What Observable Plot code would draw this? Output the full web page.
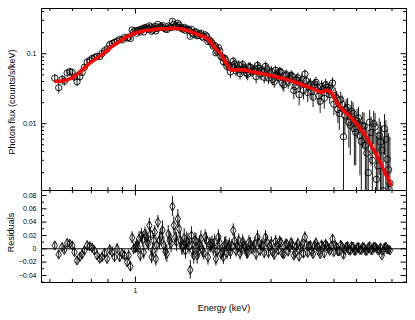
<!DOCTYPE html>
<html><head><meta charset="utf-8">
<script src="https://cdn.jsdelivr.net/npm/d3@7"></script>
<script src="https://cdn.jsdelivr.net/npm/@observablehq/plot@0.6"></script>
<style>html,body{margin:0;padding:0;background:#fff}#chart svg{display:block}</style>
</head><body><div id="chart"></div><script>
// Energy bins (keV), set A
const energy = [
  0.520,0.537,0.552,0.562,0.575,0.587,0.599,0.610,0.623,0.637,
  0.649,0.661,0.676,0.690,0.704,0.717,0.733,0.749,0.763,0.778,
  0.795,0.812,0.828,0.844,0.862,0.880,0.898,0.915,0.935,0.947,
  0.960,0.974,0.986,1.000,
  1.02,1.04,1.06,1.08,1.10,1.12,1.14,1.16,1.18,1.20,
  1.23,1.26,1.29,1.32,1.35,1.38,1.41,1.44,1.47,1.50,
  1.53,1.56,1.59,1.62,1.65,1.68,1.72,1.76,1.80,1.84,
  1.88,1.92,1.96,2.00,2.04,2.08,2.12,2.16,2.21,2.26,
  2.31,2.36,2.41,2.46,2.51,2.57,2.63,2.69,2.75,2.81,
  2.87,2.94,3.01,3.08,3.15,3.22,3.29,3.37,3.45,3.53,
  3.61,3.69,3.77,3.86,3.95,4.04,4.13,4.22,4.32,4.42,
  4.52,4.62,4.72,4.83,4.94,5.05,5.16,5.28,5.40,5.52,
  5.64,5.77,5.90,6.03,6.17,6.31,6.45,6.60,6.75,6.90,
  7.05,7.21,7.37,7.53,7.70,7.87
];
// Photon flux (counts/s/keV), set A
const flux = [
  0.0448,0.0327,0.0430,0.0405,0.0530,0.0555,0.0540,0.0465,0.0400,0.0470,
  0.0540,0.0640,0.0760,0.0800,0.0850,0.0880,0.0920,0.0910,0.1010,0.1100,
  0.1170,0.1350,0.1400,0.1450,0.1520,0.1600,0.1580,0.1700,0.1680,0.1720,
  0.1650,0.2180,0.2050,0.2120,
  0.215,0.205,0.228,0.236,0.226,0.250,0.210,0.235,0.212,0.262,
  0.244,0.233,0.222,0.240,0.290,0.247,0.272,0.236,0.224,0.216,
  0.221,0.178,0.198,0.206,0.181,0.191,0.175,0.186,0.150,0.149,
  0.128,0.103,0.122,0.092,0.077,0.081,0.069,0.055,0.078,0.057,
  0.069,0.059,0.063,0.053,0.065,0.055,0.061,0.068,0.051,0.056,
  0.066,0.045,0.056,0.040,0.050,0.056,0.038,0.049,0.039,0.049,
  0.030,0.042,0.026,0.043,0.051,0.028,0.037,0.024,0.039,0.025,
  0.034,0.023,0.033,0.026,0.038,0.025,0.016,0.022,0.0065,0.016,
  0.0105,0.015,0.0085,0.011,0.0068,0.0095,0.0049,0.0020,0.0075,0.0100,
  0.0016,0.0068,0.0042,0.0085,0.0031,0.0014
];
// 1-sigma errors, set A
const err = [
  0.006,0.006,0.006,0.006,0.006,0.006,0.006,0.006,0.006,0.006,
  0.006,0.006,0.007,0.007,0.007,0.007,0.007,0.007,0.007,0.007,
  0.008,0.008,0.008,0.008,0.008,0.008,0.008,0.008,0.008,0.008,
  0.008,0.009,0.009,0.009,
  0.010,0.010,0.011,0.010,0.010,0.011,0.010,0.010,0.011,0.010,
  0.013,0.012,0.013,0.013,0.015,0.013,0.014,0.013,0.012,0.013,
  0.013,0.014,0.013,0.012,0.013,0.012,0.011,0.011,0.012,0.011,
  0.011,0.011,0.011,0.010,0.011,0.011,0.010,0.011,0.010,0.010,
  0.010,0.010,0.009,0.010,0.010,0.009,0.010,0.010,0.009,0.010,
  0.010,0.009,0.010,0.008,0.008,0.008,0.008,0.008,0.008,0.008,
  0.008,0.008,0.008,0.008,0.008,0.008,0.007,0.007,0.007,0.007,
  0.007,0.007,0.007,0.007,0.007,0.007,0.006,0.006,0.006,0.006,
  0.006,0.006,0.006,0.005,0.005,0.005,0.005,0.005,0.005,0.005,
  0.005,0.005,0.005,0.005,0.005,0.005
];
// Residuals, set A
const resid = [
  0.005,-0.0086,0.0025,-0.0015,0.0085,0.0075,0.005,-0.005,-0.0175,-0.0125,
  -0.0085,-0.0025,0.005,0.0035,0.0015,-0.0025,-0.010,-0.015,-0.0125,-0.0065,
  -0.015,-0.0015,-0.005,-0.0125,0,-0.0125,-0.0075,-0.010,-0.020,-0.010,
  -0.0265,0.0165,0,0.002,
  0.002,-0.010,0.0135,0.0225,0.010,0.035,-0.0125,0.0125,-0.015,0.040,
  0.0175,0.005,-0.0075,0.0125,0.0635,0.0175,0.045,0.0125,0.0025,-0.0025,
  0.010,-0.0315,-0.0025,0.0125,-0.010,0.0075,-0.0025,0.0175,-0.0125,0.005,
  0,-0.015,0.0175,-0.0075,-0.0125,0.0075,0.0025,-0.005,0.0275,-0.0025,
  0.0125,0,0.005,-0.005,0.010,0,0.0075,0.0175,-0.0025,0.005,
  0.0175,-0.006,0.008,-0.009,0.004,0.011,-0.007,0.006,-0.004,0.009,
  -0.010,0.003,-0.0115,0.007,0.0175,-0.006,0.005,-0.008,0.009,-0.004,
  0.006,-0.007,0.004,-0.003,0.015,0.005,-0.004,0.006,-0.009,0.003,
  -0.002,0.004,-0.003,0.002,-0.002,0.003,-0.003,0.002,-0.002,0.003,
  0.001,-0.002,-0.010,0.002,-0.001,-0.0025
];
// Energy bins, set B (interleaved bins above 1 keV)
const energyB = [
  1.01,1.03,1.05,1.07,1.09,1.11,1.13,1.15,1.17,1.19,
  1.215,1.245,1.275,1.305,1.335,1.365,1.395,1.425,1.455,1.485,
  1.515,1.545,1.575,1.605,1.635,1.665,1.70,1.74,1.78,1.82,
  1.86,1.90,1.94,1.98,2.02,2.06,2.10,2.14,2.185,2.235,
  2.285,2.335,2.385,2.435,2.485,2.54,2.60,2.66,2.72,2.78,
  2.84,2.905,2.975,3.045,3.115,3.185,3.255,3.33,3.41,3.49,
  3.57,3.65,3.73,3.815,3.905,3.995,4.085,4.175,4.27,4.37,
  4.47,4.57,4.67,4.775,4.885,4.995,5.105,5.22,5.34,5.46,
  5.58,5.705,5.835,5.965,6.10,6.24,6.38,6.525,6.675,6.825,
  6.975,7.13,7.29,7.45,7.615,7.785
];
const fluxB = [
  0.196,0.218,0.222,0.205,0.231,0.224,0.240,0.218,0.245,0.230,
  0.238,0.252,0.226,0.248,0.236,0.262,0.241,0.255,0.230,0.238,
  0.228,0.214,0.222,0.190,0.203,0.184,0.196,0.168,0.178,0.158,
  0.142,0.131,0.108,0.110,0.088,0.086,0.066,0.067,0.064,0.071,
  0.062,0.052,0.070,0.060,0.051,0.064,0.058,0.047,0.062,0.057,
  0.046,0.060,0.053,0.043,0.058,0.046,0.054,0.036,0.050,0.044,
  0.047,0.034,0.045,0.038,0.030,0.041,0.036,0.029,0.036,0.033,
  0.021,0.031,0.036,0.030,0.032,0.019,0.023,0.014,0.019,0.013,
  0.017,0.0095,0.014,0.0075,0.012,0.0056,0.0092,0.0038,0.0105,0.0030,
  0.0090,0.0025,0.0055,0.0011,0.0060,0.0022
];
const errB = [
  0.010,0.011,0.010,0.011,0.010,0.011,0.010,0.011,0.010,0.011,
  0.013,0.014,0.013,0.013,0.014,0.013,0.014,0.013,0.013,0.014,
  0.013,0.012,0.013,0.013,0.012,0.012,0.012,0.011,0.012,0.011,
  0.011,0.011,0.010,0.011,0.010,0.011,0.010,0.010,0.010,0.010,
  0.010,0.010,0.010,0.009,0.010,0.010,0.009,0.010,0.010,0.009,
  0.009,0.010,0.009,0.008,0.009,0.008,0.008,0.008,0.008,0.008,
  0.008,0.008,0.008,0.008,0.008,0.007,0.007,0.007,0.007,0.007,
  0.007,0.007,0.007,0.007,0.007,0.006,0.006,0.006,0.006,0.006,
  0.006,0.006,0.006,0.005,0.005,0.005,0.005,0.005,0.005,0.005,
  0.005,0.005,0.005,0.005,0.005,0.005
];
const residB = [
  0.004,0.015,0.020,-0.005,0.018,0.008,0.022,-0.003,0.025,0.006,
  0.012,0.028,-0.004,0.022,0.008,0.035,0.010,0.030,0.004,0.016,
  0.012,0.004,0.020,-0.010,0.011,-0.004,0.015,-0.006,0.012,0.006,
  0.008,0.010,-0.003,0.009,-0.005,0.006,-0.006,0.006,0.004,0.012,
  0.004,-0.007,0.011,0.002,-0.006,0.007,0.003,-0.008,0.009,0.005,
  -0.006,0.010,0.004,-0.005,0.011,-0.002,0.009,-0.008,0.007,0.002,
  0.006,-0.006,0.008,0.002,-0.007,0.006,0.004,-0.004,0.005,0.003,
  -0.008,0.003,0.007,0.001,0.004,-0.005,0.003,-0.004,0.003,-0.002,
  0.004,-0.003,0.003,-0.003,0.003,-0.002,0.002,-0.003,0.004,-0.002,
  0.003,-0.002,0.002,-0.003,0.003,-0.001
];
// Model (red curve)
const modelEnergy = [0.523,0.550,0.575,0.600,0.640,0.694,0.753,0.817,0.886,0.960,1.041,1.129,1.225,1.383,1.500,1.587,1.694,1.792,1.882,1.992,2.091,2.160,2.268,2.381,2.604,2.988,3.429,3.904,4.303,4.518,4.667,4.860,5.131,5.715,6.367,6.904,7.390,7.904];
const modelFlux = [0.0402,0.0408,0.0425,0.0458,0.0560,0.0745,0.0946,0.123,0.155,0.186,0.208,0.219,0.228,0.230,0.219,0.201,0.182,0.164,0.127,0.100,0.0726,0.0587,0.0587,0.0587,0.0546,0.0490,0.0425,0.0353,0.0304,0.0280,0.0299,0.0283,0.0193,0.0124,0.0072,0.00416,0.0024,0.00136];

// Ticks
const xMajorTicks = [1];
const xMinorTicks = [0.5,0.6,0.7,0.8,0.9,2,3,4,5,6,7,8,9];
const yFluxMajor = [0.01,0.1];
const yFluxMinor = [0.002,0.003,0.004,0.005,0.006,0.007,0.008,0.009,0.02,0.03,0.04,0.05,0.06,0.07,0.08,0.09,0.2,0.3,0.4];
const yResidMajor = [-0.04,-0.02,0,0.02,0.04,0.06,0.08];
const yResidMinor = [-0.05,-0.03,-0.01,0.01,0.03,0.05,0.07];

const W = 415, ML = 41, MR = 9;
const PW = W - ML - MR;
const font = "Liberation Sans, Arial, Helvetica, sans-serif";
const xDomain = [0.467, 9.0];

const rows = (E, F, S, R) => E.map((e, i) => ({
  e, f: F[i],
  lo: Math.max(F[i] - S[i], 1e-5), hi: F[i] + S[i],
  r: R[i], rlo: R[i] - S[i], rhi: R[i] + S[i]
}));
const pts = rows(energy, flux, err, resid).concat(rows(energyB, fluxB, errB, residB));
const model = modelEnergy.map((e, i) => ({e, f: modelFlux[i]}));

function frameTicks(PH, xMajor, xMinor, yMajor, yMinor) {
  const M = 5.5, m = 3;
  return [
    Plot.tickY(yMajor, {insetRight: PW - M, stroke: "black"}),
    Plot.tickY(yMajor, {insetLeft: PW - M, stroke: "black"}),
    Plot.tickY(yMinor, {insetRight: PW - m, stroke: "black"}),
    Plot.tickY(yMinor, {insetLeft: PW - m, stroke: "black"}),
    Plot.tickX(xMajor, {insetBottom: PH - M, stroke: "black"}),
    Plot.tickX(xMajor, {insetTop: PH - M, stroke: "black"}),
    Plot.tickX(xMinor, {insetBottom: PH - m, stroke: "black"}),
    Plot.tickX(xMinor, {insetTop: PH - m, stroke: "black"})
  ];
}

const topH = 190, topMT = 8;
const fluxPlot = Plot.plot({
  width: W, height: topH, marginTop: topMT, marginBottom: 0, marginLeft: ML, marginRight: MR,
  style: {fontFamily: font, fontSize: "7px", color: "black", background: "white", overflow: "visible"},
  x: {type: "log", domain: xDomain, axis: null},
  y: {type: "log", domain: [0.00111, 0.443]},
  marks: [
    Plot.ruleX(pts, {x: "e", y1: "lo", y2: "hi", stroke: "#1a1a1a", strokeWidth: 1, clip: true}),
    Plot.dot(pts, {x: "e", y: "f", r: 3.2, stroke: "black", strokeWidth: 0.9, fill: "none", clip: true}),
    Plot.line(model, {x: "e", y: "f", stroke: "#ff0000", strokeWidth: 3.6, curve: "monotone-x", clip: true}),
    ...frameTicks(topH - topMT, xMajorTicks, xMinorTicks, yFluxMajor, yFluxMinor),
    Plot.axisY({ticks: yFluxMajor, tickSize: 0, tickPadding: 5, label: null, tickFormat: d => String(d)}),
    Plot.text(["Photon flux (counts/s/keV)"], {frameAnchor: "left", rotate: -90, dx: -29.5, dy: 2.5, fontSize: 9, textAnchor: "middle", lineAnchor: "middle"}),
    Plot.frame({stroke: "black"})
  ]
});

const botH = 130, botMB = 38;
const residPlot = Plot.plot({
  width: W, height: botH, marginTop: 0, marginBottom: botMB, marginLeft: ML, marginRight: MR,
  style: {fontFamily: font, fontSize: "7px", color: "black", background: "white", overflow: "visible"},
  x: {type: "log", domain: xDomain},
  y: {domain: [-0.0506, 0.0875]},
  marks: [
    Plot.ruleY([0], {stroke: "black", strokeWidth: 1}),
    Plot.ruleX(pts, {x: "e", y1: "rlo", y2: "rhi", stroke: "#1a1a1a", strokeWidth: 1, clip: true}),
    Plot.dot(pts, {x: "e", y: "r", symbol: "diamond", r: 2.8, stroke: "black", strokeWidth: 0.9, fill: "none", clip: true}),
    ...frameTicks(botH - botMB, xMajorTicks, xMinorTicks, yResidMajor, yResidMinor),
    Plot.axisY({ticks: yResidMajor, tickSize: 0, tickPadding: 5, label: null, tickFormat: d => d === 0 ? "0" : d3.format(".2f")(d)}),
    Plot.axisX({ticks: xMajorTicks, tickSize: 0, tickPadding: 6, label: null, tickFormat: d => String(d)}),
    Plot.text(["Residuals"], {frameAnchor: "left", rotate: -90, dx: -30, dy: -4, fontSize: 9, textAnchor: "middle", lineAnchor: "middle"}),
    Plot.text(["Energy (keV)"], {frameAnchor: "bottom", dy: 25.5, fontSize: 9, textAnchor: "middle", lineAnchor: "middle"}),
    Plot.frame({stroke: "black"})
  ]
});

const chart = document.getElementById("chart");
chart.appendChild(fluxPlot);
chart.appendChild(residPlot);
</script></body></html>
